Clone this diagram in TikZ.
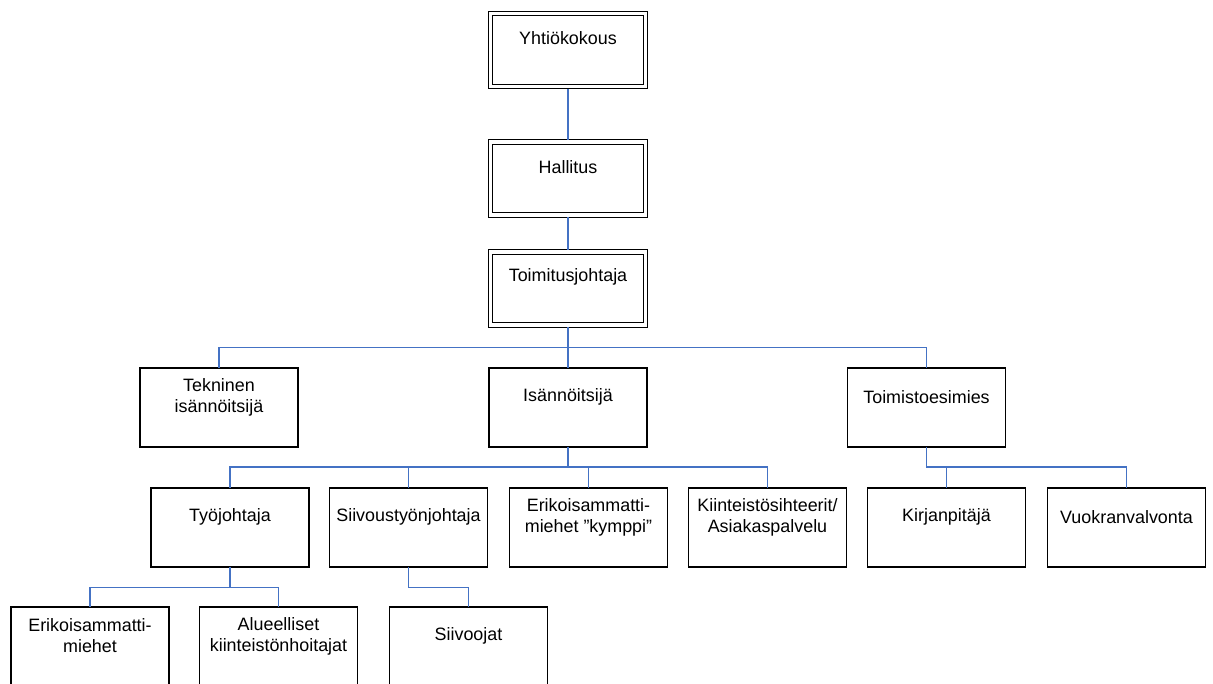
\documentclass[tikz,border=0pt]{standalone}
\usepackage{fontspec}
\setmainfont{Liberation Sans}
\usetikzlibrary{positioning}
\definecolor{conn}{HTML}{4472C4}
\tikzset{
  box/.style={draw=black, line width=1.1pt, minimum width=158pt, minimum height=79pt, inner sep=0pt, outer sep=0pt},
  dbox/.style={draw=black, line width=1.1pt, double=white, double distance=3.6pt, minimum width=155pt, minimum height=73pt, inner sep=0pt, outer sep=0pt},
  lbl/.style={font=\fontsize{17.9}{21}\selectfont, align=center, inner sep=0pt},
  link/.style={draw=conn, line width=1.4pt},
}
\begin{document}
\begin{tikzpicture}[x=1pt,y=-1pt]
\useasboundingbox (0,0) rectangle (1213,684);
\clip (0,0) rectangle (1213,684);
% top chain
\node[dbox] (yk) at (568,50) {};
\node[dbox] (hal) at (568,178.5) {};
\node[dbox] (tj) at (568,288.5) {};
% level 2
\node[box] (tek) at (219,407.5) {};
\node[box] (isa) at (568,407.5) {};
\node[box] (toe) at (926.5,407.5) {};
% level 3
\node[box] (tyo) at (230,527.5) {};
\node[box] (siv) at (408.5,527.5) {};
\node[box] (eky) at (588.5,527.5) {};
\node[box] (kia) at (767.5,527.5) {};
\node[box] (kir) at (946.5,527.5) {};
\node[box] (vuo) at (1126.5,527.5) {};
% level 4
\node[box] (erm) at (90,646.5) {};
\node[box] (alu) at (278.5,646.5) {};
\node[box] (sii) at (468.5,646.5) {};
% labels
\node[lbl] (yk-t) at ([yshift=-25pt]yk.north) {Yhtiökokous};
\node[lbl] (hal-t) at ([yshift=-25pt]hal.north) {Hallitus};
\node[lbl] (tj-t) at ([yshift=-25pt]tj.north) {Toimitusjohtaja};
\node[lbl] (tek-t) at ([yshift=-29pt]tek.north) {Tekninen\\isännöitsijä};
\node[lbl] (isa-t) at ([yshift=-29pt]isa.north) {Isännöitsijä};
\node[lbl] (toe-t) at ([yshift=-29pt]toe.north) {Toimistoesimies};
\node[lbl] (tyo-t) at ([yshift=-29pt]tyo.north) {Työjohtaja};
\node[lbl] (siv-t) at ([yshift=-29pt]siv.north) {Siivoustyönjohtaja};
\node[lbl] (eky-t) at ([yshift=-29pt]eky.north) {Erikoisammatti-\\miehet ”kymppi”};
\node[lbl] (kia-t) at ([yshift=-29pt]kia.north) {Kiinteistösihteerit/\\Asiakaspalvelu};
\node[lbl] (kir-t) at ([yshift=-29pt]kir.north) {Kirjanpitäjä};
\node[lbl] (vuo-t) at ([yshift=-29pt]vuo.north) {Vuokranvalvonta};
\node[lbl] (erm-t) at ([yshift=-29pt]erm.north) {Erikoisammatti-\\miehet};
\node[lbl] (alu-t) at ([yshift=-29pt]alu.north) {Alueelliset\\kiinteistönhoitajat};
\node[lbl] (sii-t) at ([yshift=-29pt]sii.north) {Siivoojat};
% connectors
\draw[link] ([yshift=-2.4pt]yk.south) -- ([yshift=2.4pt]hal.north);
\draw[link] ([yshift=-2.4pt]hal.south) -- ([yshift=2.4pt]tj.north);
\draw[link] ([yshift=-2.4pt]tj.south) -- (isa.north);
\draw[link] ([yshift=-2.4pt]tj.south) -- ++(0,20) -| (tek.north);
\draw[link] ([yshift=-2.4pt]tj.south) -- ++(0,20) -| (toe.north);
\draw[link] (isa.south) -- ++(0,20) -| (tyo.north);
\draw[link] (isa.south) -- ++(0,20) -| (siv.north);
\draw[link] (isa.south) -- ++(0,20) -| (eky.north);
\draw[link] (isa.south) -- ++(0,20) -| (kia.north);
\draw[link] (toe.south) -- ++(0,20) -| (kir.north);
\draw[link] (toe.south) -- ++(0,20) -| (vuo.north);
\draw[link] (tyo.south) -- ++(0,20.5) -| (erm.north);
\draw[link] (tyo.south) -- ++(0,20.5) -| (alu.north);
\draw[link] (siv.south) -- ++(0,20.5) -| (sii.north);
\end{tikzpicture}
\end{document}
